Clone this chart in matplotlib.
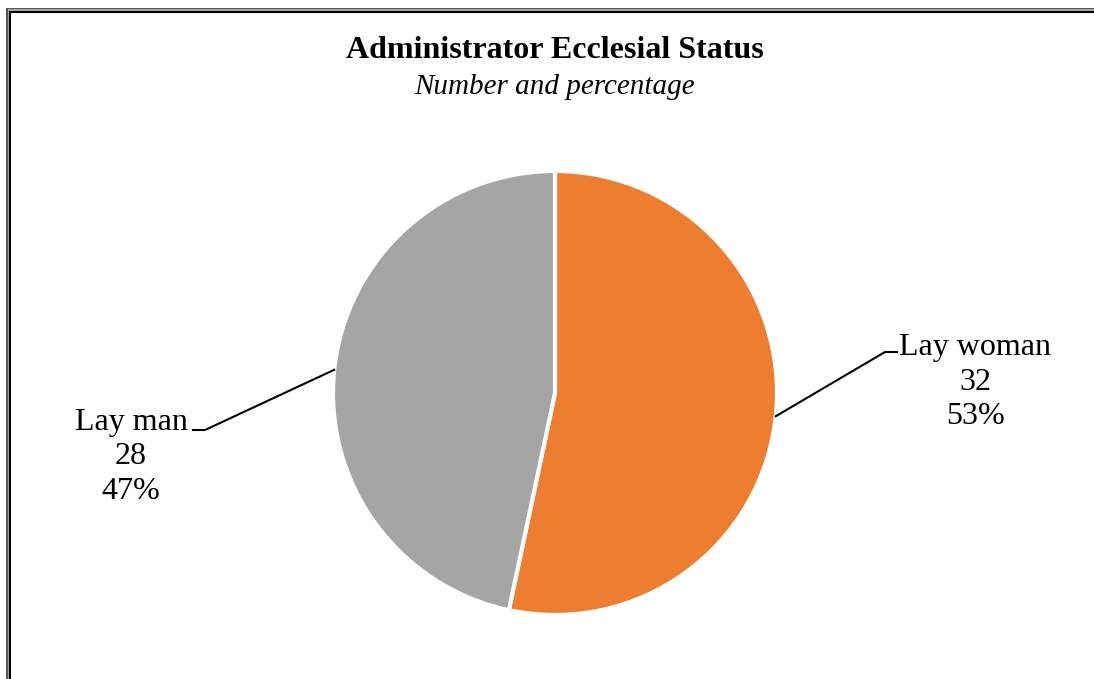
import matplotlib.pyplot as plt
from matplotlib.patches import Rectangle
import math

# data
categories = ["Lay woman", "Lay man"]
counts = [32, 28]
colors = ["#ED7D31", "#A5A5A5"]

W, H = 1094, 679
fig = plt.figure(figsize=(W / 100, H / 100), dpi=100)
plt.rcParams['font.family'] = ['Liberation Serif', 'DejaVu Serif']

ax = fig.add_axes([0, 0, 1, 1])
ax.set_xlim(0, W)
ax.set_ylim(0, H)
ax.set_aspect('equal')
ax.axis('off')

# frame (double line, cut at right and bottom)
ax.add_patch(Rectangle((6.5, -10), W + 20, H + 10 - 8.5, fill=False,
                       edgecolor="#333333", linewidth=1.2))
ax.add_patch(Rectangle((8.5, -10), W + 20, H + 10 - 10.2, fill=False,
                       edgecolor="#a8a8a8", linewidth=1.5))
ax.add_patch(Rectangle((10.3, -10), W + 20, H + 10 - 12, fill=False,
                       edgecolor="#000000", linewidth=1.5))

cx, cy, r = 555, H - 393, 222
wedges, _ = ax.pie(counts, colors=colors, startangle=90, counterclock=False,
                   center=(cx, cy), radius=r,
                   wedgeprops=dict(edgecolor="white", linewidth=3))
ax.set_xlim(0, W)
ax.set_ylim(0, H)

ax.text(555, H - 50, "Administrator Ecclesial Status", ha="center", va="center",
        fontsize=23, fontweight="bold")
ax.text(555, H - 87, "Number and percentage", ha="center", va="center",
        fontsize=21, style="italic")

total = sum(counts)
# leader elbow and label positions (pixels)
elbows = [(885, H - 352), (205, H - 430)]
ends = [(897, H - 352), (193, H - 430)]
label_pos = [(975, H - 382), (131, H - 457)]

for w, n, cat, el, en, lp in zip(wedges, counts, categories, elbows, ends, label_pos):
    mid = math.radians((w.theta1 + w.theta2) / 2)
    sx = cx + r * math.cos(mid)
    sy = cy + r * math.sin(mid)
    ax.plot([sx, el[0], en[0]], [sy, el[1], en[1]], color="black", linewidth=1.5)
    pct = round(n / total * 100)
    ax.text(lp[0], lp[1], f"{cat}\n{n}\n{pct}%", ha="center", va="center",
            fontsize=23, linespacing=1.25)

fig.savefig("out.png", dpi=100)
